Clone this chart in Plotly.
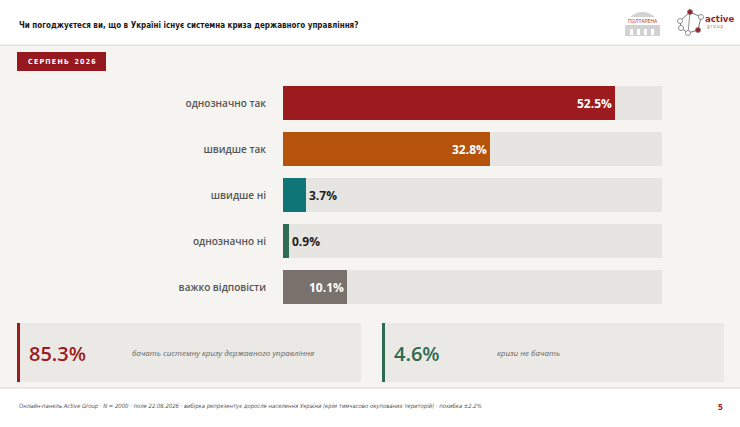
import plotly.graph_objects as go

# data
categories = ['однозначно так', 'швидше так', 'швидше ні', 'однозначно ні', 'важко відповісти']
values = [52.5, 32.8, 3.7, 0.9, 10.1]
bar_colors = ['#9b1b1f', '#b5530b', '#0f7577', '#2e6b50', '#78716c']
text_positions = ['inside', 'inside', 'outside', 'outside', 'inside']
track_max = 60

summary_values = ['85.3%', '4.6%']
summary_texts = ['бачать системну кризу державного управління', 'кризи не бачать']

title = 'Чи погоджуєтеся ви, що в Україні існує системна криза державного управління?'
badge = 'СЕРПЕНЬ 2026'
footer = ('Онлайн-панель Active Group · N = 2000 · поле 22.08.2026 · вибірка репрезентує доросле населення України '
          '(крім тимчасово окупованих територій) · похибка ±2.2%')

W, H = 740, 427


def px(x):
    return x / W


def py(y):
    return 1 - y / H


fig = go.Figure()

# grey tracks
fig.add_trace(go.Bar(
    x=[track_max] * len(categories), y=categories, orientation='h',
    marker=dict(color='#e6e5e2', line_width=0), width=0.74,
    hoverinfo='skip', showlegend=False,
))

fig.add_trace(go.Bar(
    x=values, y=categories, orientation='h',
    marker=dict(color=bar_colors, line_width=0), width=0.74,
    text=[f'{v}%' for v in values], textposition=text_positions,
    insidetextanchor='end',
    insidetextfont=dict(color='white', size=12, family='Open Sans', weight='bold'),
    outsidetextfont=dict(color='#222222', size=12, family='Open Sans', weight='bold'),
    cliponaxis=False, showlegend=False,
))

shapes = []
annotations = []

# header & footer bands
shapes.append(dict(type='rect', xref='paper', yref='paper', x0=0, x1=1, y0=py(45), y1=1,
                   fillcolor='white', line_width=0, layer='below'))
shapes.append(dict(type='line', xref='paper', yref='paper', x0=0, x1=1, y0=py(45), y1=py(45),
                   line=dict(color='#e4e2de', width=1.5), layer='below'))
shapes.append(dict(type='rect', xref='paper', yref='paper', x0=0, x1=1, y0=0, y1=py(388),
                   fillcolor='white', line_width=0, layer='below'))
shapes.append(dict(type='line', xref='paper', yref='paper', x0=0, x1=1, y0=py(388), y1=py(388),
                   line=dict(color='#e4e2de', width=1.5), layer='below'))

annotations.append(dict(text=title, xref='paper', yref='paper', x=px(17), y=py(25),
                        xanchor='left', yanchor='middle', showarrow=False,
                        font=dict(family='DejaVu Sans Condensed, Roboto', size=8, color='#1a1a1a', weight='bold')))

# badge
shapes.append(dict(type='rect', xref='paper', yref='paper', x0=px(17), x1=px(106), y0=py(71), y1=py(52),
                   fillcolor='#96191f', line_width=0))
annotations.append(dict(text='\u2009'.join(badge.replace(' ', '\u2002')), xref='paper', yref='paper',
                        x=px(61.5), y=py(61.5),
                        xanchor='center', yanchor='middle', showarrow=False,
                        font=dict(family='DejaVu Sans Condensed, Roboto', size=7, color='white', weight='bold')))

# logos (simplified)
shapes.append(dict(type='rect', xref='paper', yref='paper', x0=px(625), x1=px(660), y0=py(36), y1=py(25),
                   fillcolor='#d2d2d2', line_width=0))
for cx in (630, 637, 644, 651):
    shapes.append(dict(type='rect', xref='paper', yref='paper', x0=px(cx), x1=px(cx + 3), y0=py(35), y1=py(29),
                       fillcolor='white', line_width=0))
shapes.append(dict(type='path', xref='paper', yref='paper',
                   path=f'M {px(630)},{py(17)} Q {px(642.5)},{py(7)} {px(655)},{py(17)} Z',
                   fillcolor='#d2d2d2', line_width=0))
annotations.append(dict(text='ПОЛТАРЕНА', xref='paper', yref='paper', x=px(642.5), y=py(21),
                        xanchor='center', yanchor='middle', showarrow=False,
                        font=dict(family='Roboto', size=5, color='#c0392b')))
net_x = [680, 690, 701, 698, 688, 681]
net_y = [21, 12, 17, 30, 33, 28]
path = 'M ' + ' L '.join(f'{px(a)},{py(b)}' for a, b in zip(net_x, net_y)) + ' Z'
shapes.append(dict(type='path', xref='paper', yref='paper', path=path,
                   line=dict(color='#777777', width=1)))
shapes.append(dict(type='line', xref='paper', yref='paper', x0=px(690), y0=py(12), x1=px(688), y1=py(33),
                   line=dict(color='#777777', width=0.8)))
for i, (a, b) in enumerate(zip(net_x, net_y)):
    c = '#a01d26' if i in (1, 3) else 'white'
    shapes.append(dict(type='circle', xref='paper', yref='paper',
                       x0=px(a - 2.5), x1=px(a + 2.5), y0=py(b + 2.5), y1=py(b - 2.5),
                       fillcolor=c, line=dict(color='#777777', width=0.8)))
annotations.append(dict(text='active', xref='paper', yref='paper', x=px(703), y=py(18),
                        xanchor='left', yanchor='middle', showarrow=False,
                        font=dict(family='DejaVu Sans Condensed, Roboto', size=9.5, color='#a01d26', weight='bold')))
annotations.append(dict(text='g r o u p', xref='paper', yref='paper', x=px(705), y=py(27),
                        xanchor='left', yanchor='middle', showarrow=False,
                        font=dict(family='Roboto', size=4.5, color='#888888')))

# summary cards
cards = [(17, 361, '#9b1b1f'), (382, 724, '#2e6b50')]
for (x0, x1, col), val, txt in zip(cards, summary_values, summary_texts):
    shapes.append(dict(type='rect', xref='paper', yref='paper', x0=px(x0), x1=px(x1), y0=py(382), y1=py(323),
                       fillcolor='#ebe9e5', line_width=0, layer='below'))
    shapes.append(dict(type='rect', xref='paper', yref='paper', x0=px(x0), x1=px(x0 + 3), y0=py(382), y1=py(323),
                       fillcolor=col, line_width=0))
    annotations.append(dict(text=val, xref='paper', yref='paper', x=px(x0 + 10), y=py(353),
                            xanchor='left', yanchor='middle', showarrow=False,
                            font=dict(family='Open Sans', size=20, color=col, weight=600)))
    annotations.append(dict(text=f'<i>{txt}</i>', xref='paper', yref='paper', x=px(x0 + 113), y=py(352),
                            xanchor='left', yanchor='middle', showarrow=False,
                            font=dict(family='Open Sans', size=8, color='#666666')))

annotations.append(dict(text=f'<i>{footer}</i>', xref='paper', yref='paper', x=px(17), y=py(406),
                        xanchor='left', yanchor='middle', showarrow=False,
                        font=dict(family='DejaVu Sans Condensed, Roboto', size=5.9, color='#555555')))
annotations.append(dict(text='5', xref='paper', yref='paper', x=px(720), y=py(406),
                        xanchor='center', yanchor='middle', showarrow=False,
                        font=dict(family='Open Sans', size=8.5, color='#a01d26', weight='bold')))

fig.update_layout(
    width=W, height=H,
    margin=dict(l=0, r=0, t=0, b=0),
    paper_bgcolor='#f5f4f0', plot_bgcolor='rgba(0,0,0,0)',
    barmode='overlay', bargap=0,
    xaxis=dict(domain=[px(283), px(662)], range=[0, track_max], visible=False, fixedrange=True),
    yaxis=dict(domain=[py(310), py(80)], autorange='reversed', showgrid=False, zeroline=False,
               showline=False, ticks='', ticklabelstandoff=16, fixedrange=True,
               tickfont=dict(family='Open Sans', size=10, color='#555555', weight=600)),
    shapes=shapes, annotations=annotations,
    font=dict(family='Open Sans'),
)

fig.write_html('out.html', config={'displayModeBar': False},
               post_script="document.body.style.margin='0';")
